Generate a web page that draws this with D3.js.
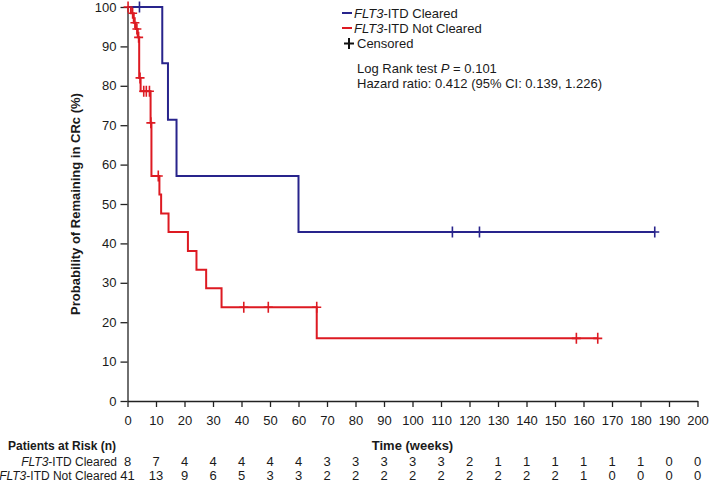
<!DOCTYPE html>
<html>
<head>
<meta charset="utf-8">
<script src="https://cdn.jsdelivr.net/npm/d3@7"></script>
<style>
  body { margin: 0; background: #fff; }
  svg text { font-family: "Liberation Sans", Arial, Helvetica, sans-serif; fill: #1a1a1a; }
</style>
</head>
<body>
<svg id="km" width="709" height="482"></svg>
<script>
// Kaplan-Meier steps: [week, % remaining after the step]
const clearedSteps = [[0, 100], [12.2, 85.7], [14.2, 71.4], [17.2, 57.1], [60, 42.9], [185, 42.9]];
const clearedCensored = [[4.2, 100], [114, 42.9], [123.5, 42.9], [185, 42.9]];

const notClearedSteps = [[0, 100], [1.2, 98.4], [2.2, 96], [2.9, 94.4], [3.6, 92.3], [4.1, 82], [4.6, 78.6],
  [8.1, 70.6], [8.4, 57.1], [11.2, 52.4], [11.8, 47.6], [14.4, 42.9], [21.2, 38.1], [24.2, 33.3],
  [27.6, 28.6], [33, 23.8], [66.4, 15.9], [165, 15.9]];
const notClearedCensored = [[0.2, 100], [1.8, 98.4], [2.6, 96], [3.3, 94.4], [3.9, 92.3], [4.4, 82],
  [5.7, 78.6], [6.6, 78.6], [7.7, 78.6], [8.2, 70.6], [10.8, 57.1], [40.8, 23.8], [49.4, 23.8],
  [66.4, 23.8], [157.5, 15.9], [165, 15.9]];

const xTicks = d3.range(0, 201, 10);
const yTicks = d3.range(0, 101, 10);
const atRiskCleared = [8, 7, 4, 4, 4, 4, 4, 3, 3, 3, 3, 3, 2, 1, 1, 1, 1, 1, 1, 0, 0];
const atRiskNotCleared = [41, 13, 9, 6, 5, 3, 3, 2, 2, 2, 2, 2, 2, 2, 2, 2, 1, 0, 0, 0, 0];

const blue = "#28248c";
const red = "#dd1a22";

const svg = d3.select("#km");
const x = d3.scaleLinear().domain([0, 200]).range([127.5, 697.5]);
const y = d3.scaleLinear().domain([0, 100]).range([401, 7]);

// axes
const yAxis = svg.append("g")
  .attr("transform", `translate(${x(0)},0)`)
  .call(d3.axisLeft(y).tickValues(yTicks).tickSize(7).tickSizeOuter(0).tickPadding(4));
const xAxis = svg.append("g")
  .attr("transform", `translate(0,${y(0)})`)
  .call(d3.axisBottom(x).tickValues(xTicks).tickSize(6).tickSizeOuter(0).tickPadding(9));
[yAxis, xAxis].forEach(a => {
  a.selectAll("path, line").attr("stroke", "#222").attr("stroke-width", 1.3);
  a.selectAll("text").style("font-size", "13px").attr("fill", "#1a1a1a");
});

// y label
svg.append("text")
  .attr("transform", `translate(80,${(y(0) + y(100)) / 2}) rotate(-90)`)
  .attr("text-anchor", "middle")
  .style("font-size", "13px").style("font-weight", "bold")
  .text("Probability of Remaining in CRc (%)");

svg.append("text")
  .attr("x", (x(0) + x(200)) / 2).attr("y", 450)
  .attr("text-anchor", "middle")
  .style("font-size", "13px").style("font-weight", "bold")
  .text("Time (weeks)");

// curves
const line = d3.line()
  .x(d => x(d[0]))
  .y(d => y(d[1]))
  .curve(d3.curveStepAfter);

function cross(g, pts, color) {
  g.selectAll(null).data(pts).enter().append("path")
    .attr("d", d => `M${x(d[0]) - 4.5},${y(d[1])}h9M${x(d[0])},${y(d[1]) - 5.5}v11`)
    .attr("stroke", color).attr("stroke-width", 1.6).attr("fill", "none");
}

const plot = svg.append("g");
plot.append("path").datum(notClearedSteps).attr("d", line)
  .attr("fill", "none").attr("stroke", red).attr("stroke-width", 2);
plot.append("path").datum(clearedSteps).attr("d", line)
  .attr("fill", "none").attr("stroke", blue).attr("stroke-width", 2);
cross(plot, notClearedCensored, red);
cross(plot, clearedCensored, blue);

// legend
const legend = svg.append("g");
const legendItems = [
  { label: "ITD Cleared", color: blue, y: 13 },
  { label: "ITD Not Cleared", color: red, y: 28 }
];
legendItems.forEach(it => {
  legend.append("line")
    .attr("x1", 342).attr("x2", 352).attr("y1", it.y).attr("y2", it.y)
    .attr("stroke", it.color).attr("stroke-width", 2);
  const t = legend.append("text").attr("x", 354).attr("y", it.y + 4.5).style("font-size", "13px");
  t.append("tspan").style("font-style", "italic").text("FLT3");
  t.append("tspan").text("-" + it.label);
});
legend.append("path")
  .attr("d", "M344,43.5h10M349,38v11")
  .attr("stroke", "#111").attr("stroke-width", 2);
legend.append("text").attr("x", 357).attr("y", 48).style("font-size", "13px").text("Censored");

const stat = legend.append("text").attr("x", 357).attr("y", 73).style("font-size", "13px");
stat.append("tspan").text("Log Rank test ");
stat.append("tspan").style("font-style", "italic").text("P");
stat.append("tspan").text(" = 0.101");
legend.append("text").attr("x", 357).attr("y", 88).style("font-size", "13px")
  .text("Hazard ratio: 0.412 (95% CI: 0.139, 1.226)");

// patients at risk table
svg.append("text")
  .attr("x", 116).attr("y", 450).attr("text-anchor", "end")
  .style("font-size", "12px").style("font-weight", "bold")
  .text("Patients at Risk (n)");

const rows = [
  { label: "ITD Cleared", values: atRiskCleared, y: 465.5 },
  { label: "ITD Not Cleared", values: atRiskNotCleared, y: 480 }
];
rows.forEach(r => {
  const t = svg.append("text").attr("x", 117).attr("y", r.y)
    .attr("text-anchor", "end").style("font-size", "12px");
  t.append("tspan").style("font-style", "italic").text("FLT3");
  t.append("tspan").text("-" + r.label);
  svg.append("g").selectAll("text").data(r.values).enter().append("text")
    .attr("x", (d, i) => x(xTicks[i]))
    .attr("y", r.y)
    .attr("text-anchor", "middle")
    .style("font-size", "13px")
    .text(d => d);
});
</script>
</body>
</html>
